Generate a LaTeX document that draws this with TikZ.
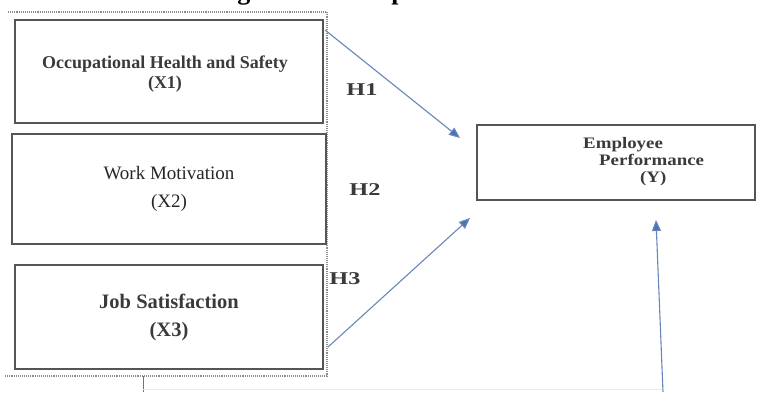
\documentclass[tikz,border=0pt]{standalone}
\usepackage{fontspec}
\setmainfont{Liberation Serif}
\usetikzlibrary{arrows.meta}
\definecolor{arrowblue}{HTML}{4A72B8}
\definecolor{linkblue}{HTML}{6A86B8}
\definecolor{boxgray}{HTML}{555555}
\definecolor{txtgray}{HTML}{3A3A3A}
\begin{document}
\begin{tikzpicture}[x=1pt,y=-1pt,
  varbox/.style={draw=boxgray, line width=1.3pt, rectangle, inner sep=0pt, align=center, text=txtgray},
  hlabel/.style={font=\bfseries\fontsize{18}{18}\selectfont, inner sep=0pt, text=txtgray},
  link/.style={draw=linkblue, line width=1.1pt, -{Triangle[length=11pt,width=9pt,fill=arrowblue]}},
  frameline/.style={draw=black!45, line width=1.1pt, densely dotted}
]
\useasboundingbox (0,0) rectangle (757,392);
\begin{scope}
  \clip (0,0) rectangle (757,392);
  \node[anchor=base west, inner sep=0pt, font=\bfseries\fontsize{26}{26}\selectfont] (title) at (214,-1) {Figure 2. Conceptual Framework};
\end{scope}
% dotted frame
\coordinate (f1) at (8,12);
\coordinate (f2) at (327,12);
\coordinate (f3) at (327,376);
\coordinate (f4) at (5,376);
\draw[frameline] (f1) -- (f2) -- (f3) -- (f4);
\coordinate (d1) at (143,376);
\coordinate (d2) at (143,392);
\draw[draw=black!55, line width=1pt] (d1) -- (d2);
\coordinate (b1) at (143,389);
\coordinate (b2) at (663,389);
\draw[draw=black!8, line width=0.8pt] (b1) -- (b2);
% boxes
\node[varbox, minimum width=308pt, minimum height=103pt] (X1) at (169,71.5) {};
\node[align=center, inner sep=0pt, text=txtgray, font=\bfseries\fontsize{18}{20}\selectfont] (X1txt) at (165,74) {Occupational Health and Safety\\(X1)};
\node[varbox, minimum width=314pt, minimum height=110pt, font=\fontsize{19}{28}\selectfont, text=black!85] (X2) at (169,189) {Work Motivation\\(X2)};
\node[varbox, minimum width=308pt, minimum height=104pt, font=\bfseries\fontsize{20.5}{28}\selectfont] (X3) at (169,317) {Job Satisfaction\\(X3)};
\node[varbox, minimum width=278pt, minimum height=75pt] (Y) at (616,162.5) {};
\node[anchor=west, align=left, inner sep=0pt, text=txtgray, font=\bfseries\fontsize{16}{17}\selectfont] (Ytxt) at (583,162) {\scalebox{1.18}[1]{Employee}\\\hspace*{16pt}\scalebox{1.18}[1]{Performance}\\\hspace*{57pt}\scalebox{1.18}[1]{(Y)}};
% labels
\node[hlabel] (H1) at (362,90) {\scalebox{1.35}[1]{H1}};
\node[hlabel] (H2) at (365,190) {\scalebox{1.35}[1]{H2}};
\node[hlabel] (H3) at (345,279) {\scalebox{1.35}[1]{H3}};
% arrows
\coordinate (h1s) at (325,30);
\coordinate (h1e) at (460,138);
\coordinate (h3s) at (328,347);
\coordinate (h3e) at (470,218);
\coordinate (vs) at (663,392);
\coordinate (ve) at (656,220);
\draw[link] (h1s) -- (h1e);
\draw[link] (h3s) -- (h3e);
\draw[link] (vs) -- (ve);
\end{tikzpicture}
\end{document}
